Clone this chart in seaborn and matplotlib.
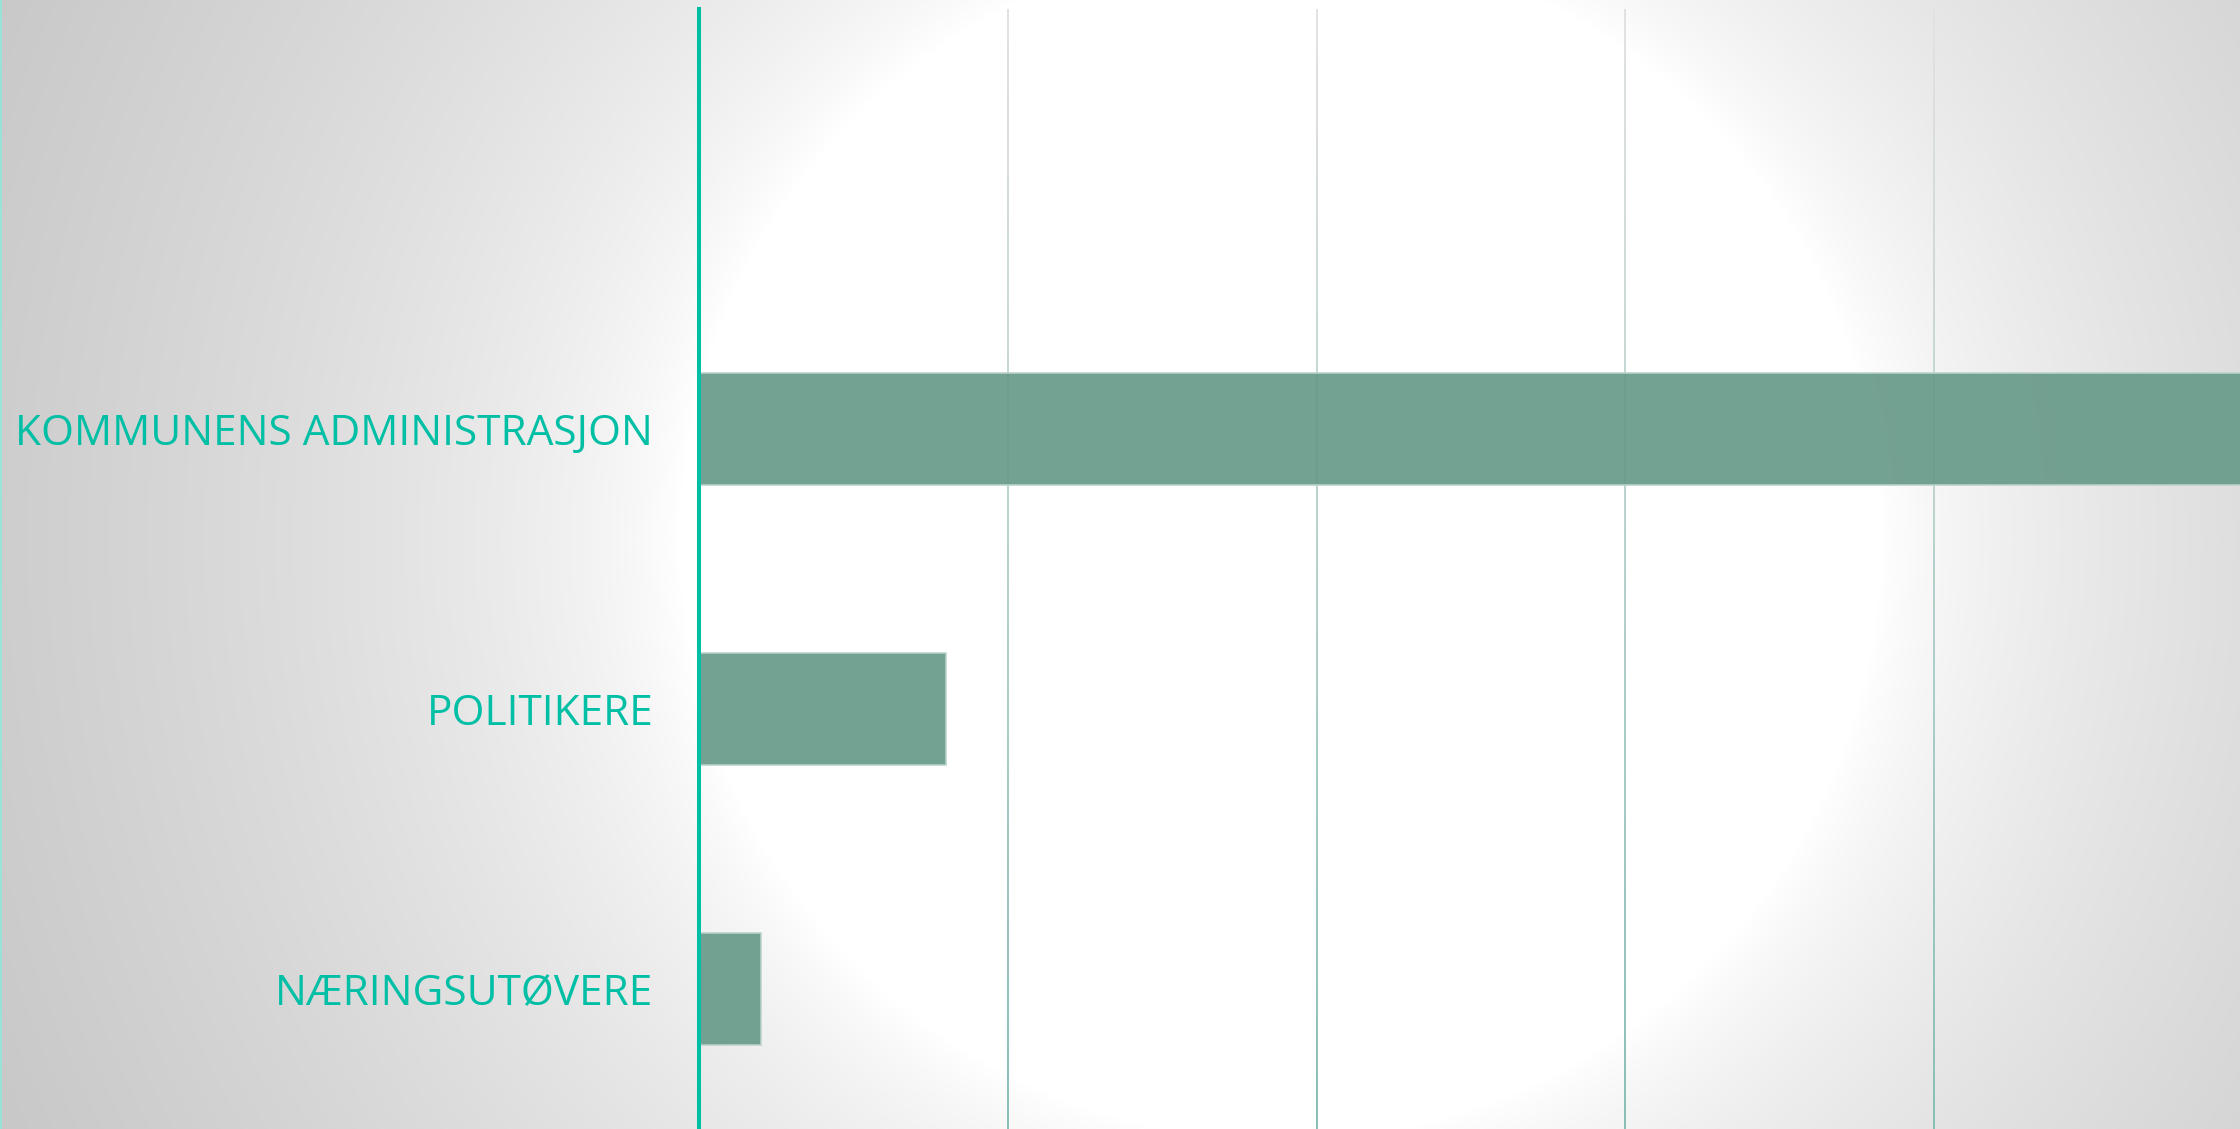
import numpy as np
import pandas as pd
import matplotlib
matplotlib.use("Agg")
import matplotlib.pyplot as plt
from matplotlib.lines import Line2D
import seaborn as sns

categories = ["KOMMUNENS ADMINISTRASJON", "POLITIKERE", "NÆRINGSUTØVERE"]
values = [28, 4, 1]
grid_ticks = [5, 10, 15, 20]

df = pd.DataFrame({"gruppe": categories, "antall": values})

sns.set_style("white")
plt.rcParams["font.family"] = ["Open Sans", "DejaVu Sans"]

W, H = 2240, 1129
fig = plt.figure(figsize=(W / 100, H / 100), dpi=100)

# bakgrunn: radial gradient, hvit midt, grå mot kantene
bg = fig.add_axes([0, 0, 1, 1])
xx, yy = np.meshgrid(np.arange(W), np.arange(H))
d = np.hypot(xx - 1280, yy - 540)
p = np.clip(d - 600, 0, None)
drop = np.minimum(1.08 * ((p + 15) ** 0.6 - 15 ** 0.6), 58)
v = (255 - drop) / 255
bg.imshow(np.dstack([v, v, v]), aspect="auto", extent=[0, 1, 0, 1], origin="upper")
bg.set_axis_off()

ax = fig.add_axes([699 / W, 0, 1 - 699 / W, 1 - 9 / H])
ax.patch.set_alpha(0)

sns.barplot(data=df, y="gruppe", x="antall", orient="h", color="#6a9b8b",
            width=0.4, edgecolor="#b9d3cb", linewidth=1.2, alpha=0.94,
            saturation=1, ax=ax, zorder=3)

y_top, y_bot = -1.5, 2.5
ax.set_xlim(0, 24.95)
ax.set_ylim(y_bot, y_top)

# rutenett med fargeovergang fra grått (topp) til turkis (bunn)
n_seg = 80
edges = np.linspace(y_top, y_bot, n_seg + 1)
frac = np.linspace(0, 1, n_seg)
c_top = np.array([226, 226, 226]) / 255
c_bot = np.array([135, 190, 181]) / 255
seg_colors = [tuple(c_top + (c_bot - c_top) * f) for f in frac]
for gx in grid_ticks:
    ax.vlines([gx] * n_seg, edges[:-1], edges[1:], colors=seg_colors,
              linewidth=1.4, zorder=2)

ax.set_xticks([])
ax.tick_params(axis="y", length=0, pad=33, labelsize=30.5, labelcolor="#00bfa5")
ax.set_xlabel("")
ax.set_ylabel("")

for s in ["top", "right", "bottom"]:
    ax.spines[s].set_visible(False)
ax.spines["left"].set_color("#00bfa5")
ax.spines["left"].set_linewidth(2.9)
ax.spines["left"].set_zorder(6)

fig.add_artist(Line2D([0.0004, 0.0004], [0, 1], color="#8fe8da", linewidth=1.2))

fig.savefig("out.png", dpi=100)
